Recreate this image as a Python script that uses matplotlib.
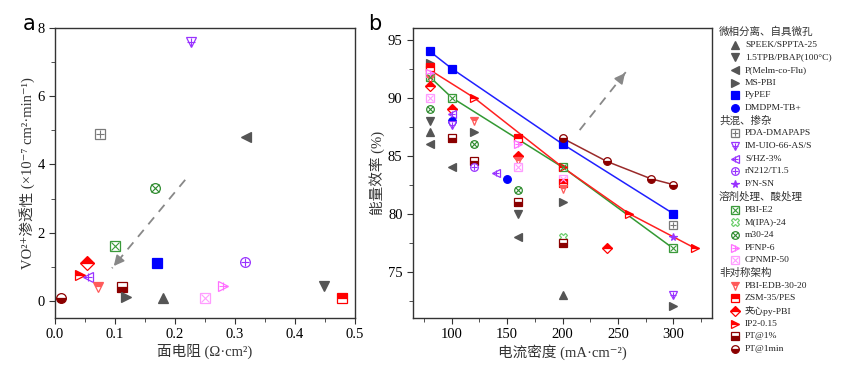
import numpy as np
import matplotlib
matplotlib.use('Agg')
import matplotlib.pyplot as plt
from matplotlib.ticker import MultipleLocator

plt.rcParams['font.family'] = ['Liberation Serif', 'Noto Sans CJK SC', 'DejaVu Sans']
plt.rcParams['axes.unicode_minus'] = False

# ---------------- data ----------------
# panel a: area resistance vs VO2+ permeability
a_names = ['PDA-DMAPAPS', 'IM-UIO-66-AS/S', 'P(Melm-co-Flu)', 'm30-24', 'PBI-E2', '夹心py-PBI',
           'PyPEF', 'rN212/T1.5', 'IP2-0.15', 'S/HZ-3%', 'PBI-EDB-30-20', 'PT@1%', 'MS-PBI',
           'SPEEK/SPPTA-25', 'CPNMP-50', 'PFNP-6', '1.5TPB/PBAP(100°C)', 'ZSM-35/PES', 'PT@1min']
a_res = [0.075, 0.226, 0.318, 0.166, 0.100, 0.053, 0.170, 0.317, 0.042, 0.055, 0.071, 0.111,
         0.118, 0.180, 0.250, 0.280, 0.449, 0.479, 0.010]
a_perm = [4.9, 7.58, 4.8, 3.32, 1.61, 1.10, 1.10, 1.14, 0.76, 0.70, 0.40, 0.40, 0.13, 0.10,
          0.10, 0.44, 0.44, 0.08, 0.08]

# panel b: current density vs energy efficiency, connected series
pypef_j = [80, 100, 200, 300]
pypef_ee = [94.0, 92.5, 86.0, 80.0]
ip2_j = [80, 120, 200, 260, 320]
ip2_ee = [92.4, 90.0, 84.0, 80.0, 77.0]
pbie2_j = [80, 100, 200, 300]
pbie2_ee = [91.8, 90.0, 84.0, 77.0]
pt1min_j = [200, 240, 280, 300]
pt1min_ee = [86.5, 84.5, 83.0, 82.5]

# panel b: single points
b_names = ['MS-PBI', 'ZSM-35/PES', 'PFNP-6', 'PBI-EDB-30-20', '夹心py-PBI', 'CPNMP-50', 'm30-24',
           '1.5TPB/PBAP(100°C)', 'SPEEK/SPPTA-25', 'P(Melm-co-Flu)',
           '夹心py-PBI', 'S/HZ-3%', 'DMDPM-TB+', 'IM-UIO-66-AS/S', 'PT@1%', 'P(Melm-co-Flu)',
           'PBI-EDB-30-20', 'MS-PBI', 'm30-24', 'PT@1%', 'rN212/T1.5',
           'S/HZ-3%', 'DMDPM-TB+',
           'ZSM-35/PES', 'PFNP-6', '夹心py-PBI', 'PBI-EDB-30-20', 'CPNMP-50', 'm30-24', 'PT@1%',
           '1.5TPB/PBAP(100°C)', 'P(Melm-co-Flu)',
           'CPNMP-50', 'ZSM-35/PES', 'PBI-EDB-30-20', 'MS-PBI', 'M(IPA)-24', 'PT@1%', 'SPEEK/SPPTA-25',
           '夹心py-PBI',
           'PDA-DMAPAPS', 'P/N-SN', 'IM-UIO-66-AS/S', 'MS-PBI']
b_j = [80, 80, 80, 80, 80, 80, 80, 80, 80, 80,
       100, 100, 100, 100, 100, 100,
       120, 120, 120, 120, 120,
       140, 150,
       160, 160, 160, 160, 160, 160, 160, 160, 160,
       200, 200, 200, 200, 200, 200, 200,
       240,
       300, 300, 300, 300]
b_ee = [93.0, 92.6, 92.1, 91.6, 91.0, 90.0, 89.0, 88.0, 87.0, 86.0,
        89.0, 88.6, 88.0, 87.6, 86.5, 84.0,
        88.0, 87.0, 86.0, 84.5, 84.0,
        83.5, 83.0,
        86.5, 86.0, 85.0, 84.5, 84.0, 82.0, 81.0, 80.0, 78.0,
        83.0, 82.6, 82.1, 81.0, 78.0, 77.5, 73.0,
        77.0,
        79.0, 78.0, 73.0, 72.0]

groups = [
    ('微相分离、自具微孔', ['SPEEK/SPPTA-25', '1.5TPB/PBAP(100°C)', 'P(Melm-co-Flu)', 'MS-PBI',
                          'PyPEF', 'DMDPM-TB+']),
    ('共混、掺杂', ['PDA-DMAPAPS', 'IM-UIO-66-AS/S', 'S/HZ-3%', 'rN212/T1.5', 'P/N-SN']),
    ('溶剂处理、酸处理', ['PBI-E2', 'M(IPA)-24', 'm30-24', 'PFNP-6', 'CPNMP-50']),
    ('非对称架构', ['PBI-EDB-30-20', 'ZSM-35/PES', '夹心py-PBI', 'IP2-0.15', 'PT@1%', 'PT@1min']),
]

# ---------------- marker styles ----------------
gray = '#555555'
blue = '#0000ff'
purple = '#9933ff'
red = '#ff0000'
salmon = '#ff5a5a'
dred = '#8b0000'
styles = {
    'SPEEK/SPPTA-25': ('^', gray, 'full', None),
    '1.5TPB/PBAP(100°C)': ('v', gray, 'full', None),
    'P(Melm-co-Flu)': ('<', gray, 'full', None),
    'MS-PBI': ('>', gray, 'full', None),
    'PyPEF': ('s', blue, 'full', None),
    'DMDPM-TB+': ('o', blue, 'full', None),
    'PDA-DMAPAPS': ('s', '#7a7a7a', 'none', '+'),
    'IM-UIO-66-AS/S': ('v', purple, 'none', '+'),
    'S/HZ-3%': ('<', purple, 'none', '+'),
    'rN212/T1.5': ('o', purple, 'none', '+'),
    'P/N-SN': ('*', purple, 'full', None),
    'PBI-E2': ('s', '#3a9a3a', 'none', 'x'),
    'M(IPA)-24': ('X', '#6fcf6f', 'none', None),
    'm30-24': ('o', '#2e8b2e', 'none', 'x'),
    'PFNP-6': ('>', '#ff70ff', 'none', '+'),
    'CPNMP-50': ('s', '#ff9cff', 'none', 'x'),
    'PBI-EDB-30-20': ('v', salmon, 'top', None),
    'ZSM-35/PES': ('s', red, 'top', None),
    '夹心py-PBI': ('D', red, 'top', None),
    'IP2-0.15': ('>', red, 'top', None),
    'PT@1%': ('s', dred, 'bottom', None),
    'PT@1min': ('o', dred, 'bottom', None),
}


def draw(ax, xs, ys, name, ms=7, ls='none', lc=None):
    m, c, fs, over = styles[name]
    if ls != 'none':
        ax.plot(xs, ys, ls=ls, color=lc, lw=1.1, zorder=2)
    if fs == 'none':
        ax.plot(xs, ys, ls='none', marker=m, ms=ms, mfc='white', mec=c, mew=0.9, zorder=3)
    else:
        ax.plot(xs, ys, ls='none', marker=m, ms=ms, color=c, mec=c, mew=0.9,
                fillstyle=fs, markerfacecoloralt='white', zorder=3)
    if over:
        ax.plot(xs, ys, ls='none', marker=over, ms=ms * 0.75, color=c, mew=0.8, zorder=4)


def style_axes(ax):
    for s in ax.spines.values():
        s.set_color('#333333')
        s.set_linewidth(1.0)
    ax.tick_params(which='both', direction='out', color='#333333', labelsize=10.5,
                   top=False, right=False)
    ax.tick_params(which='major', length=4)
    ax.tick_params(which='minor', length=3)


def dashed_arrow(ax, start, end):
    ax.plot([start[0], end[0]], [start[1], end[1]], ls=(0, (5, 4)), color='#888888', lw=1.3)
    tail = (start[0] + (end[0] - start[0]) * 0.9, start[1] + (end[1] - start[1]) * 0.9)
    ax.annotate('', xy=end, xytext=tail,
                arrowprops=dict(arrowstyle='-|>,head_width=0.3,head_length=0.6',
                                color='#888888', lw=1.3))


fig = plt.figure(figsize=(8.47, 3.8), dpi=100)

# ---------------- panel a ----------------
ax1 = fig.add_axes([55 / 847, 62 / 380, 300 / 847, 290 / 380])
for x, y, n in zip(a_res, a_perm, a_names):
    draw(ax1, [x], [y], n, ms=7)
dashed_arrow(ax1, (0.217, 3.55), (0.095, 0.96))
ax1.set_xlim(0, 0.5)
ax1.set_ylim(-0.5, 8)
ax1.xaxis.set_major_locator(MultipleLocator(0.1))
ax1.xaxis.set_minor_locator(MultipleLocator(0.05))
ax1.yaxis.set_major_locator(MultipleLocator(2))
ax1.yaxis.set_minor_locator(MultipleLocator(1))
ax1.set_xticks([0, 0.1, 0.2, 0.3, 0.4, 0.5], ['0.0', '0.1', '0.2', '0.3', '0.4', '0.5'])
style_axes(ax1)
ax1.set_xlabel('面电阻 (Ω·cm²)', fontsize=10.5, color='#333333', labelpad=2)
ax1.set_ylabel('VO²⁺渗透性 (×10⁻⁷ cm²·min⁻¹)', fontsize=10.5, color='#333333', labelpad=2)

# ---------------- panel b ----------------
ax2 = fig.add_axes([413 / 847, 62 / 380, 299 / 847, 290 / 380])
draw(ax2, pbie2_j, pbie2_ee, 'PBI-E2', ms=5.5, ls='-', lc='#339933')
draw(ax2, ip2_j, ip2_ee, 'IP2-0.15', ms=5.5, ls='-', lc='#ff2020')
draw(ax2, pypef_j, pypef_ee, 'PyPEF', ms=5.5, ls='-', lc='#2020ff')
draw(ax2, pt1min_j, pt1min_ee, 'PT@1min', ms=5.5, ls='-', lc='#9a2a2a')
for x, y, n in zip(b_j, b_ee, b_names):
    draw(ax2, [x], [y], n, ms=5.5)
dashed_arrow(ax2, (215.5, 87.2), (258, 92.3))
ax2.set_xlim(65, 335)
ax2.set_ylim(71, 96)
ax2.xaxis.set_major_locator(MultipleLocator(50))
ax2.xaxis.set_minor_locator(MultipleLocator(25))
ax2.yaxis.set_major_locator(MultipleLocator(5))
ax2.yaxis.set_minor_locator(MultipleLocator(2.5))
style_axes(ax2)
ax2.set_xlabel('电流密度 (mA·cm⁻²)', fontsize=10.5, color='#333333', labelpad=2)
ax2.set_ylabel('能量效率 (%)', fontsize=10.5, color='#333333', labelpad=2)

fig.text(23 / 847, 1 - 30 / 380, 'a', family='DejaVu Sans', fontsize=15)
fig.text(368 / 847, 1 - 30 / 380, 'b', family='DejaVu Sans', fontsize=15)

# ---------------- legend ----------------
lg = fig.add_axes([714 / 847, 0, 133 / 847, 1])
lg.set_xlim(714, 847)
lg.set_ylim(380, 0)
lg.axis('off')
row = 0
for header, members in groups:
    lg.text(719, 32 + row * 12.68, header, fontsize=7.6, va='center', ha='left', color='#333333')
    row += 1
    for n in members:
        yy = 32 + row * 12.68
        draw(lg, [735], [yy], n, ms=5.5)
        lg.text(745, yy, n, fontsize=6.8, va='center', ha='left', color='#222222')
        row += 1

fig.savefig('out.png', dpi=100)
